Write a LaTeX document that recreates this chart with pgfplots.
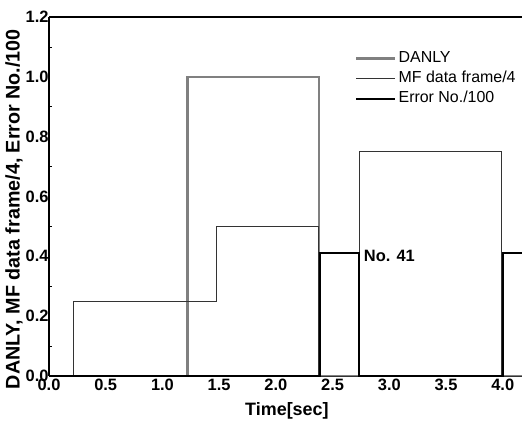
\documentclass[border=0pt]{standalone}
\usepackage{fontspec}
\setmainfont{Liberation Sans}
\usepackage{pgfplots}
\pgfplotsset{compat=1.18}

\begin{document}
\begin{tikzpicture}
\begin{axis}[
    scale only axis,
    width=473bp, height=359bp,
    xmin=0, xmax=4.17,
    ymin=0, ymax=1.2,
    axis x line=box,
    axis y line=left,
    axis line style={line width=1.1pt, -},
    xtick={0,0.5,...,4.0},
    ytick={0,0.2,...,1.2},
    minor y tick num=1,
    tick align=inside,
    major tick length=0bp,
    minor tick length=3bp,
    tick style={black, line width=0.8pt},
    x tick style={draw=none},
    /pgf/number format/assume math mode=true,
    /pgf/number format/.cd, fixed, fixed zerofill, precision=1,
    /pgfplots/.cd,
    tick label style={font=\fontsize{16.5}{18}\selectfont\bfseries},
    yticklabel style={xshift=3bp},
    xlabel={Time[sec]},
    ylabel={DANLY, MF data frame/4, Error No./100},
    xlabel style={font=\fontsize{18}{20}\selectfont\bfseries,
        at={(axis description cs:0.503,-0.0975)}, anchor=center},
    ylabel style={font=\fontsize{19.8}{22}\selectfont\bfseries,
        at={(axis description cs:-0.074,0.465)}, anchor=center},
    legend style={draw=none, fill=none, at={(0.647,0.907)}, anchor=north west,
        font=\fontsize{16}{18}\selectfont, inner sep=0pt, row sep=4bp,
        nodes={inner xsep=2bp, inner ysep=0pt, text height=11.5bp, text depth=4.5bp},
        cells={anchor=west}},
    legend image code/.code={\draw[#1] (0bp,0bp) -- (39bp,0bp);},
]
\addplot[color=gray, line width=2.4bp] coordinates {
    (0,0) (1.22,0) (1.22,1.0) (2.38,1.0) (2.38,0) (4.17,0)};
\addlegendentry{DANLY}
\addplot[color=black!80, line width=1bp] coordinates {
    (0,0) (0.22,0) (0.22,0.25) (1.48,0.25) (1.48,0.5) (2.38,0.5) (2.38,0)
    (2.74,0) (2.74,0.75) (3.99,0.75) (3.99,0) (4.17,0)};
\addlegendentry{MF data frame/4}
\addplot[color=black, line width=2bp] coordinates {
    (0,0) (2.39,0) (2.39,0.41) (2.73,0.41) (2.73,0) (4.0,0) (4.0,0.41) (4.17,0.41)};
\addlegendentry{Error No./100}
\node[anchor=west, font=\fontsize{16.5}{18}\selectfont\bfseries, inner sep=0pt] at (axis cs:2.775,0.40) {No. 41};
\end{axis}
\pgfresetboundingbox
\path[use as bounding box] (current axis.south west) ++(-49bp,-47bp) rectangle ([shift={(1bp,17bp)}]current axis.north east);
\end{tikzpicture}
\end{document}
